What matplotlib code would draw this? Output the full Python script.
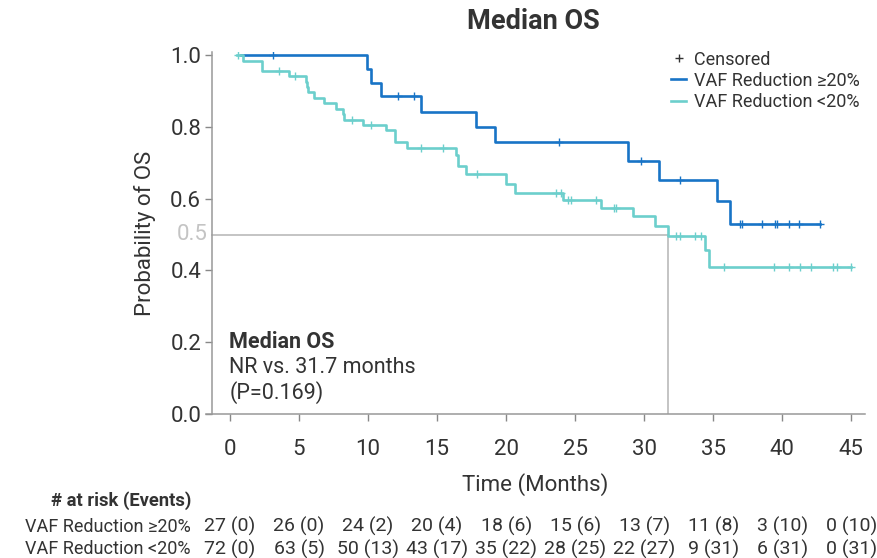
import numpy as np
import matplotlib
matplotlib.use("Agg")
import matplotlib.pyplot as plt
import matplotlib.transforms as mtransforms

plt.rcParams['font.family'] = ['Roboto', 'DejaVu Sans']

# Kaplan-Meier steps: start of follow-up, drop times and survival after each drop
hi_start = 0.8
hi_times = [9.9, 10.2, 10.95, 13.8, 17.8, 19.2, 28.8, 31.1, 35.3, 36.2]
hi_surv = [0.962, 0.923, 0.885, 0.842, 0.800, 0.758, 0.706, 0.653, 0.594, 0.529]
hi_end = 42.75
hi_cens = [3.1, 12.2, 13.3, 23.8, 29.8, 32.6, 36.96, 37.08, 38.5, 39.5, 39.6,
           40.5, 41.2, 42.75]

lo_start = 0.5
lo_times = [0.92, 2.3, 4.25, 5.5, 5.6, 5.67, 6.1, 6.8, 7.7, 8.2, 8.26, 9.6,
            11.28, 11.96, 12.8, 16.4, 16.5, 17.06, 20.0, 20.65, 24.1, 26.9,
            29.2, 30.75, 31.7, 34.4, 34.66]
lo_surv = [0.984, 0.955, 0.941, 0.926, 0.912, 0.897, 0.881, 0.866, 0.851,
           0.836, 0.820, 0.806, 0.791, 0.757, 0.741, 0.722, 0.692, 0.669,
           0.640, 0.615, 0.595, 0.574, 0.551, 0.525, 0.497, 0.458, 0.410]
lo_end = 45.0
lo_cens = [0.6, 3.55, 4.7, 8.86, 10.2, 13.84, 15.4, 17.87, 23.6, 24.0, 24.5,
           24.7, 26.5, 27.8, 27.96, 32.3, 32.6, 33.7, 34.1, 35.8, 39.4, 40.5,
           41.3, 42.1, 43.7, 43.96, 45.0]

median_lo = 31.7

# number at risk table
risk_times = [0, 5, 10, 15, 20, 25, 30, 35, 40, 45]
hi_risk = ["27 (0)", "26 (0)", "24 (2)", "20 (4)", "18 (6)", "15 (6)",
           "13 (7)", "11 (8)", "3 (10)", "0 (10)"]
lo_risk = ["72 (0)", "63 (5)", "50 (13)", "43 (17)", "35 (22)", "28 (25)",
           "22 (27)", "9 (31)", "6 (31)", "0 (31)"]

labels = ["VAF Reduction \u226520%", "VAF Reduction <20%"]
colors = ["#1874c6", "#6ccfcc"]
txt = "#333333"


def km_curve(start, times, surv, end):
    t = np.r_[start, times, end]
    s = np.r_[1.0, surv, surv[-1]]
    return t, s


def level_at(times, surv, when):
    t = np.r_[-1.0, times]
    s = np.r_[1.0, surv]
    idx = np.searchsorted(t, when, side="right") - 1
    return s[idx]


fig = plt.figure(figsize=(8.78, 5.58), dpi=100)
ax = fig.add_axes([0.2343, 0.258, 0.751, 0.649])

# median reference lines
ax.plot([-1.28, median_lo], [0.5, 0.5], color="#b4b4b4", lw=1.1, zorder=1)
ax.plot([median_lo, median_lo], [0, 0.5], color="#b4b4b4", lw=1.1, zorder=1)

groups = [(hi_start, hi_times, hi_surv, hi_end, hi_cens),
          (lo_start, lo_times, lo_surv, lo_end, lo_cens)]
for (start, times, surv, end, cens), col, lab in zip(groups, colors, labels):
    t, s = km_curve(start, times, surv, end)
    ax.step(t, s, where="post", color=col, lw=1.9, label=lab, zorder=3)
    cs = [level_at(times, surv, c) for c in cens]
    ax.plot(cens, cs, ls="none", marker="+", ms=6, mew=1.0, color=col, zorder=4)

ax.set_xlim(-1.76, 46.0)
ax.set_ylim(0, 1.009)
ax.set_xticks(risk_times)
ax.set_yticks([0.0, 0.2, 0.4, 0.6, 0.8, 1.0])
ax.set_yticklabels(["0.0", "0.2", "0.4", "0.6", "0.8", "1.0"])
ax.tick_params(labelsize=16, colors="#888888", labelcolor=txt, length=5, width=1.0)
ax.tick_params(axis="x", pad=13)
ax.tick_params(axis="y", pad=3)
for side in ["top", "right"]:
    ax.spines[side].set_visible(False)
for side in ["left", "bottom"]:
    ax.spines[side].set_color("#999999")
    ax.spines[side].set_linewidth(1.1)
ax.spines["left"].set_position(("data", -1.28))

ax.text(-1.6, 0.5, "0.5", color="#c4c4c4", fontsize=16, ha="right", va="center")

ax.set_xlabel("Time (Months)", fontsize=16, color=txt, labelpad=9)
ax.set_ylabel("Probability of OS", fontsize=16, color=txt, labelpad=10)

fig.text(0.607, 0.961, "Median OS", fontsize=19.5, fontweight="bold", color=txt,
         ha="center", va="center")

ax.text(-0.05, 0.2, "Median OS", fontsize=15.5, fontweight="bold", color=txt,
        ha="left", va="center")
ax.text(-0.05, 0.13, "NR vs. 31.7 months", fontsize=15.5, color=txt,
        ha="left", va="center")
ax.text(-0.05, 0.061, "(P=0.169)", fontsize=15.5, color=txt,
        ha="left", va="center")

# legend with a censored marker entry
cens_h, = ax.plot([], [], ls="none", marker="+", ms=6, mew=1.0, color=txt)
h, l = ax.get_legend_handles_labels()
leg = ax.legend([cens_h] + h[:2], ["Censored"] + l[:2], loc="upper right",
                bbox_to_anchor=(0.988, 0.922), bbox_transform=fig.transFigure,
                frameon=False, fontsize=13, handlelength=0.85,
                handletextpad=0.45, labelspacing=0.17, borderaxespad=0)
for t in leg.get_texts():
    t.set_color(txt)

# at-risk table under the axis
trans = mtransforms.blended_transform_factory(ax.transData, fig.transFigure)
fig.text(191 / 878, 1 - 501 / 558, "# at risk (Events)", fontsize=13.2,
         fontweight="bold", color=txt, ha="right", va="center")
for row_y, lab, vals in [(526.5, labels[0], hi_risk), (549.5, labels[1], lo_risk)]:
    fy = 1 - row_y / 558
    fig.text(191 / 878, fy, lab, fontsize=13, color=txt, ha="right", va="center")
    for x, v in zip(risk_times, vals):
        ax.text(x, fy, v, transform=trans, fontsize=14, color=txt,
                ha="center", va="center", clip_on=False)

fig.savefig("out.png", dpi=100)
